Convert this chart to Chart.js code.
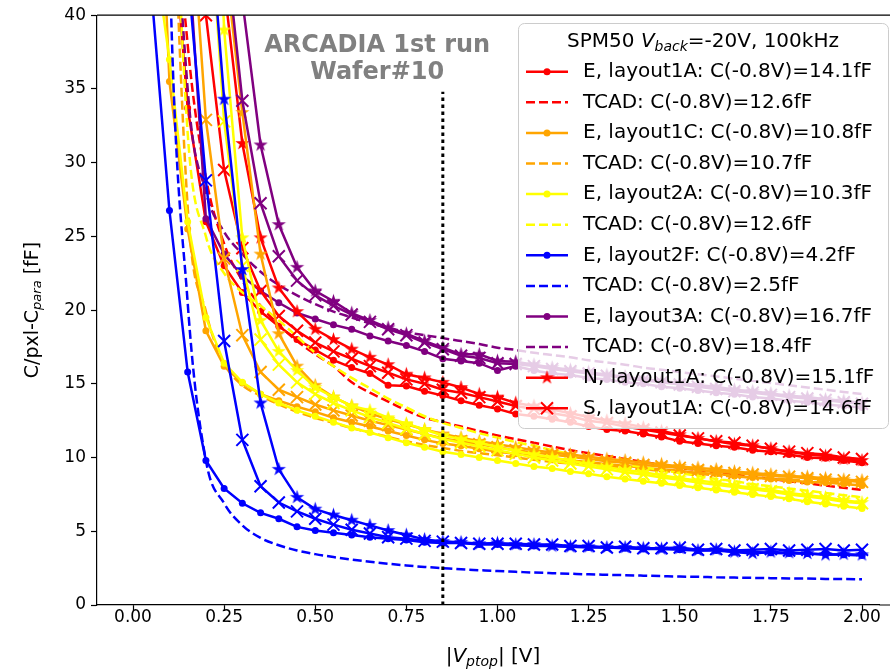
<!DOCTYPE html>
<html>
<head>
<meta charset="utf-8">
<title>ARCADIA C-V</title>
<script src="https://cdn.jsdelivr.net/npm/chart.js@4"></script>
<style>
  body { margin: 0; background: #fff; overflow: hidden; }
  #wrap { width: 890px; height: 672px; }
</style>
</head>
<body>
<div id="wrap"><canvas id="cv"></canvas></div>
<script>
// |V_ptop| grid (V)
const VOLTS = [0.05, 0.10, 0.15, 0.20, 0.25, 0.30, 0.35, 0.40, 0.45, 0.50,
  0.55, 0.60, 0.65, 0.70, 0.75, 0.80, 0.85, 0.90, 0.95, 1.00,
  1.05, 1.10, 1.15, 1.20, 1.25, 1.30, 1.35, 1.40, 1.45, 1.50,
  1.55, 1.60, 1.65, 1.70, 1.75, 1.80, 1.85, 1.90, 1.95, 2.00];

const X_TICKS = [0, 0.25, 0.5, 0.75, 1.0, 1.25, 1.5, 1.75, 2.0];
const Y_TICKS = [0, 5, 10, 15, 20, 25, 30, 35, 40];

// C/pxl - C_para (fF)
const redE = [90, 49.5, 33.7, 26, 23, 21.2, 19.9, 18.9, 18.0, 17.3,
  16.6, 16.1, 15.7, 14.9, 14.85, 14.5, 14.2, 13.85, 13.55, 13.3,
  12.95, 12.8, 12.6, 12.4, 12.1, 11.9, 11.8, 11.6, 11.4, 11.1,
  10.95, 10.8, 10.7, 10.5, 10.4, 10.2, 10.0, 9.95, 9.8, 9.65];
const redTCAD = [90, 55, 38, 29, 24.5, 22, 20.3, 19.0, 17.9, 17.0,
  16.2, 15.1, 14.4, 13.8, 13.2, 12.7, 12.4, 12.1, 11.8, 11.5,
  11.25, 11.0, 10.75, 10.5, 10.3, 10.1, 9.9, 9.7, 9.5, 9.3,
  9.15, 9.0, 8.85, 8.7, 8.55, 8.4, 8.25, 8.1, 7.95, 7.8];
const orangeE = [64, 35.5, 25.5, 18.6, 16.2, 15.05, 14.3, 13.85, 13.45, 13.1,
  12.7, 12.4, 12.1, 11.8, 11.5, 11.2, 10.95, 10.8, 10.6, 10.4,
  10.25, 10.1, 9.95, 9.8, 9.7, 9.55, 9.45, 9.3, 9.2, 9.1,
  8.95, 8.9, 8.75, 8.65, 8.55, 8.45, 8.35, 8.3, 8.2, 8.1];
const orangeTCAD = [110, 58, 27, 19.9, 16.4, 14.9, 14.2, 13.6, 13.1, 12.7,
  12.35, 12.0, 11.7, 11.4, 11.1, 10.85, 10.65, 10.45, 10.3, 10.15,
  10.0, 9.85, 9.7, 9.6, 9.5, 9.4, 9.3, 9.2, 9.1, 9.0,
  8.9, 8.8, 8.72, 8.65, 8.58, 8.5, 8.43, 8.37, 8.3, 8.25];
const yellowE = [46, 37, 26, 19.5, 16.4, 15.1, 14.3, 13.7, 13.2, 12.8,
  12.4, 12.0, 11.7, 11.35, 11.0, 10.7, 10.4, 10.2, 10.0, 9.8,
  9.6, 9.4, 9.25, 9.05, 8.9, 8.7, 8.55, 8.4, 8.25, 8.1,
  7.95, 7.8, 7.65, 7.5, 7.35, 7.2, 7.0, 6.85, 6.7, 6.55];
const yellowTCAD = [100, 60, 32, 25, 22.5, 21.2, 20.3, 19.3, 18.2, 17.1,
  16.2, 15.4, 14.7, 14.0, 13.4, 12.8, 12.35, 12.0, 11.65, 11.35,
  11.05, 10.8, 10.5, 10.25, 10.0, 9.8, 9.55, 9.35, 9.15, 8.95,
  8.75, 8.55, 8.4, 8.2, 8.05, 7.9, 7.75, 7.6, 7.45, 7.3];
const blueE = [41.8, 26.75, 15.8, 9.8, 7.9, 6.9, 6.25, 5.85, 5.3, 5.05,
  4.9, 4.75, 4.6, 4.5, 4.4, 4.25, 4.2, 4.2, 4.1, 4.1,
  4.05, 4.0, 4.0, 3.95, 3.9, 3.9, 3.85, 3.8, 3.8, 3.75,
  3.7, 3.7, 3.6, 3.6, 3.55, 3.5, 3.5, 3.45, 3.4, 3.35];
const blueTCAD = [120, 44.3, 20.5, 9.8, 6.9, 5.4, 4.55, 4.05, 3.7, 3.45,
  3.25, 3.08, 2.93, 2.8, 2.68, 2.58, 2.5, 2.42, 2.36, 2.3,
  2.25, 2.2, 2.16, 2.12, 2.08, 2.05, 2.02, 1.99, 1.96, 1.93,
  1.91, 1.88, 1.86, 1.84, 1.82, 1.8, 1.79, 1.77, 1.76, 1.74];
const purpleE = [120, 80, 45, 26.2, 23.8, 22.3, 21.3, 20.5, 19.8, 19.4,
  19.0, 18.7, 18.25, 17.9, 17.6, 17.2, 16.7, 16.55, 16.4, 15.9,
  16.2, 15.9, 15.7, 15.6, 15.4, 15.3, 15.1, 15.0, 14.8, 14.7,
  14.55, 14.4, 14.3, 14.1, 14.0, 13.85, 13.75, 13.6, 13.5, 13.4];
const purpleTCAD = [120, 60, 35, 28, 25.3, 23.8, 22.6, 21.7, 21.0, 20.4,
  19.9, 19.5, 19.1, 18.8, 18.5, 18.3, 18.1, 17.9, 17.7, 17.45,
  17.3, 17.1, 16.95, 16.8, 16.6, 16.45, 16.3, 16.1, 15.95, 15.8,
  15.65, 15.5, 15.35, 15.2, 15.05, 14.9, 14.75, 14.6, 14.45, 14.3];
const redN = [150, 110, 75, 55, 42, 31.3, 24.9, 21.5, 19.9, 18.7,
  18.0, 17.35, 16.8, 16.3, 15.65, 15.4, 15.1, 14.75, 14.3, 14.1,
  13.7, 13.5, 13.25, 13.0, 12.75, 12.5, 12.3, 12.05, 11.8, 11.55,
  11.3, 11.1, 10.9, 10.8, 10.6, 10.4, 10.2, 10.1, 9.9, 9.8];
const redS = [150, 100, 65, 40, 29.5, 24.2, 21.3, 19.6, 18.6, 17.8,
  17.2, 16.7, 16.2, 15.75, 15.3, 15.0, 14.6, 14.4, 14.1, 13.8,
  13.5, 13.3, 13.0, 12.8, 12.5, 12.35, 12.1, 11.9, 11.7, 11.5,
  11.3, 11.1, 11.0, 10.8, 10.6, 10.4, 10.3, 10.2, 10.0, 9.9];
const orangeN = [200, 130, 90, 62, 44.3, 33.4, 23.8, 18.4, 16.2, 14.9,
  14.1, 13.5, 13.0, 12.6, 12.25, 11.9, 11.6, 11.35, 11.1, 10.9,
  10.7, 10.5, 10.35, 10.2, 10.05, 9.9, 9.8, 9.65, 9.55, 9.4,
  9.3, 9.2, 9.05, 8.95, 8.85, 8.75, 8.7, 8.6, 8.5, 8.45];
const orangeS = [150, 90, 50.7, 32.9, 23.5, 18.3, 15.8, 14.6, 14.1, 13.6,
  13.2, 12.85, 12.5, 12.2, 11.9, 11.6, 11.3, 11.1, 10.9, 10.7,
  10.5, 10.35, 10.2, 10.05, 9.9, 9.75, 9.65, 9.5, 9.4, 9.3,
  9.15, 9.05, 8.95, 8.85, 8.75, 8.7, 8.6, 8.5, 8.45, 8.35];
const yellowN = [200, 140, 100, 70, 39, 24.9, 19.3, 17.2, 15.9, 14.75,
  14.1, 13.5, 13.2, 12.7, 12.3, 11.9, 11.5, 11.25, 11.0, 10.7,
  10.45, 10.2, 10.0, 9.8, 9.55, 9.35, 9.15, 9.0, 8.8, 8.6,
  8.45, 8.3, 8.1, 7.95, 7.8, 7.6, 7.45, 7.3, 7.1, 6.95];
const yellowS = [150, 100, 70, 50.8, 32.8, 23, 18, 16.3, 15.1, 14.3,
  13.7, 13.2, 12.75, 12.35, 11.95, 11.6, 11.25, 11.0, 10.75, 10.5,
  10.25, 10.0, 9.8, 9.6, 9.4, 9.2, 9.0, 8.85, 8.65, 8.5,
  8.3, 8.15, 8.0, 7.85, 7.7, 7.5, 7.35, 7.2, 7.0, 6.9];
const blueN = [200, 150, 100, 50, 34.3, 22.75, 13.7, 9.2, 7.3, 6.5,
  6.1, 5.75, 5.4, 5.05, 4.75, 4.45, 4.3, 4.25, 4.15, 4.2,
  4.1, 4.1, 4.0, 3.95, 3.95, 3.9, 3.9, 3.85, 3.8, 3.85,
  3.7, 3.75, 3.6, 3.5, 3.6, 3.55, 3.5, 3.4, 3.45, 3.4];
const blueS = [150, 90, 43, 28.8, 17.9, 11.2, 8.05, 6.95, 6.35, 5.85,
  5.45, 5.1, 4.85, 4.6, 4.5, 4.35, 4.3, 4.2, 4.15, 4.15,
  4.15, 4.1, 4.1, 4.0, 4.0, 3.9, 3.95, 3.85, 3.85, 3.9,
  3.75, 3.8, 3.7, 3.75, 3.8, 3.7, 3.75, 3.8, 3.7, 3.75];
const purpleN = [200, 150, 100, 70, 52, 41, 31.2, 25.8, 22.9, 21.3,
  20.6, 19.8, 19.3, 18.8, 18.4, 17.9, 17.45, 17.0, 17.0, 16.55,
  16.5, 16.3, 16.1, 15.95, 15.8, 15.6, 15.5, 15.3, 15.2, 15.05,
  14.9, 14.8, 14.6, 14.5, 14.35, 14.2, 14.1, 13.95, 13.85, 13.7];
const purpleS = [200, 130, 90, 60, 45.8, 34.2, 27.25, 23.65, 22.0, 21.0,
  20.3, 19.7, 19.2, 18.7, 18.3, 17.8, 17.35, 16.9, 16.75, 16.4,
  16.35, 16.2, 16.0, 15.85, 15.7, 15.55, 15.4, 15.25, 15.1, 14.95,
  14.8, 14.65, 14.5, 14.4, 14.25, 14.1, 14.0, 13.9, 13.75, 13.65];

// dotted marker line at |V_ptop| = 0.85 V
const VLINE_X = [0.85, 0.85];
const VLINE_Y = [0, 34.8];

const LEGEND_LABELS = [
  'E, layout1A: C(-0.8V)=14.1fF',
  'TCAD: C(-0.8V)=12.6fF',
  'E, layout1C: C(-0.8V)=10.8fF',
  'TCAD: C(-0.8V)=10.7fF',
  'E, layout2A: C(-0.8V)=10.3fF',
  'TCAD: C(-0.8V)=12.6fF',
  'E, layout2F: C(-0.8V)=4.2fF',
  'TCAD: C(-0.8V)=2.5fF',
  'E, layout3A: C(-0.8V)=16.7fF',
  'TCAD: C(-0.8V)=18.4fF',
  'N, layout1A: C(-0.8V)=15.1fF',
  'S, layout1A: C(-0.8V)=14.6fF'
];
const NOTE = ['ARCADIA 1st run', 'Wafer#10'];

const RED = '#ff0000';
const ORANGE = '#ffa500';
const YELLOW = '#ffff00';
const BLUE = '#0000ff';
const PURPLE = '#800080';

const FONT = '"DejaVu Sans"';

// where 0 V sits on the page and pixels per volt, to line up with the original axes
const X_ZERO_PX = 133;
const X_PX_PER_V = 364.5;

function makeStar(color) {
  const size = 17;
  const c = document.createElement('canvas');
  c.width = size;
  c.height = size;
  const g = c.getContext('2d');
  const R = 7.5;
  const r = R * 0.382;
  g.translate(size / 2, size / 2);
  g.beginPath();
  for (let k = 0; k < 10; k++) {
    const a = -Math.PI / 2 + k * Math.PI / 5;
    const rr = k % 2 ? r : R;
    g.lineTo(rr * Math.cos(a), rr * Math.sin(a));
  }
  g.closePath();
  g.fillStyle = color;
  g.fill();
  return c;
}

const stars = {};
[RED, ORANGE, YELLOW, BLUE, PURPLE].forEach((c) => { stars[c] = makeStar(c); });

// plotting order (later ones end up on top); first 12 are the legend rows
const SERIES = [
  { vals: redE, color: RED, kind: 'E' },
  { vals: redTCAD, color: RED, kind: 'T' },
  { vals: orangeE, color: ORANGE, kind: 'E' },
  { vals: orangeTCAD, color: ORANGE, kind: 'T' },
  { vals: yellowE, color: YELLOW, kind: 'E' },
  { vals: yellowTCAD, color: YELLOW, kind: 'T' },
  { vals: blueE, color: BLUE, kind: 'E' },
  { vals: blueTCAD, color: BLUE, kind: 'T' },
  { vals: purpleE, color: PURPLE, kind: 'E' },
  { vals: purpleTCAD, color: PURPLE, kind: 'T' },
  { vals: redN, color: RED, kind: 'N' },
  { vals: redS, color: RED, kind: 'S' },
  { vals: orangeN, color: ORANGE, kind: 'N' },
  { vals: orangeS, color: ORANGE, kind: 'S' },
  { vals: yellowN, color: YELLOW, kind: 'N' },
  { vals: yellowS, color: YELLOW, kind: 'S' },
  { vals: blueN, color: BLUE, kind: 'N' },
  { vals: blueS, color: BLUE, kind: 'S' },
  { vals: purpleN, color: PURPLE, kind: 'N' },
  { vals: purpleS, color: PURPLE, kind: 'S' }
];

function toPoints(xs, ys) {
  return xs.map((v, i) => ({ x: v, y: ys[i] }));
}

function buildDataset(s, idx) {
  const ds = {
    data: toPoints(VOLTS, s.vals),
    borderColor: s.color,
    backgroundColor: s.color,
    borderWidth: 2.5,
    tension: 0,
    order: 100 - idx,
    pointHoverRadius: 0
  };
  if (s.kind === 'E') {
    ds.pointStyle = 'circle';
    ds.pointRadius = 3.5;
    ds.pointBorderWidth = 0;
    ds.pointBackgroundColor = s.color;
  } else if (s.kind === 'T') {
    ds.borderDash = [9, 4];
    ds.pointRadius = 0;
    ds.cubicInterpolationMode = 'monotone';
  } else if (s.kind === 'N') {
    ds.pointStyle = stars[s.color];
    ds.pointRadius = 7;
  } else {
    ds.pointStyle = 'crossRot';
    ds.pointRadius = 8.5;
    ds.pointBorderWidth = 2;
    ds.pointBorderColor = s.color;
  }
  return ds;
}

const datasets = SERIES.map(buildDataset);
datasets.push({
  data: toPoints(VLINE_X, VLINE_Y),
  borderColor: '#000',
  borderWidth: 3,
  borderDash: [3.5, 3.5],
  borderCapStyle: 'butt',
  pointRadius: 0,
  order: 0
});

function partFont(p, size) {
  const s = p.sub ? Math.round(size * 0.7) : size;
  return (p.italic ? 'italic ' : '') + s + 'px ' + FONT;
}

function drawRich(ctx, parts, x, y, size, align) {
  let total = 0;
  const widths = parts.map((p) => {
    ctx.font = partFont(p, size);
    const w = ctx.measureText(p.t).width;
    total += w;
    return w;
  });
  let cx = align === 'center' ? x - total / 2 : x;
  ctx.textAlign = 'left';
  ctx.textBaseline = 'middle';
  parts.forEach((p, i) => {
    ctx.font = partFont(p, size);
    ctx.fillText(p.t, cx, y + (p.sub ? size * 0.25 : 0));
    cx += widths[i];
  });
}

function drawHandle(ctx, s, x0, x1, y) {
  ctx.save();
  ctx.strokeStyle = s.color;
  ctx.lineWidth = 2.5;
  if (s.kind === 'T') ctx.setLineDash([9, 4]);
  ctx.beginPath();
  ctx.moveTo(x0, y);
  ctx.lineTo(x1, y);
  ctx.stroke();
  ctx.setLineDash([]);
  const mx = (x0 + x1) / 2;
  if (s.kind === 'E') {
    ctx.fillStyle = s.color;
    ctx.beginPath();
    ctx.arc(mx, y, 3.5, 0, Math.PI * 2);
    ctx.fill();
  } else if (s.kind === 'N') {
    const img = stars[s.color];
    ctx.drawImage(img, mx - img.width / 2, y - img.height / 2);
  } else if (s.kind === 'S') {
    ctx.lineWidth = 2;
    ctx.beginPath();
    ctx.moveTo(mx - 6, y - 6); ctx.lineTo(mx + 6, y + 6);
    ctx.moveTo(mx - 6, y + 6); ctx.lineTo(mx + 6, y - 6);
    ctx.stroke();
  }
  ctx.restore();
}

const decor = {
  id: 'decor',
  afterDraw(chart) {
    const { ctx, chartArea: a, scales } = chart;
    const x = scales.x;
    const y = scales.y;
    ctx.save();

    // top spine, and the axes running on to the cropped right edge
    ctx.strokeStyle = '#000';
    ctx.lineWidth = 1.2;
    ctx.beginPath();
    ctx.moveTo(a.left, a.top);
    ctx.lineTo(chart.width, a.top);
    ctx.moveTo(a.right, a.bottom);
    ctx.lineTo(chart.width, a.bottom);
    ctx.stroke();

    // run / wafer note
    ctx.fillStyle = '#808080';
    ctx.font = 'bold 24px ' + FONT;
    ctx.textAlign = 'center';
    ctx.textBaseline = 'middle';
    ctx.fillText(NOTE[0], x.getPixelForValue(0.67), y.getPixelForValue(37.95));
    ctx.fillText(NOTE[1], x.getPixelForValue(0.67), y.getPixelForValue(36.1));

    // legend box
    const bx = 518, by = 23, bw = 370, bh = 405;
    ctx.fillStyle = 'rgba(255,255,255,0.8)';
    ctx.strokeStyle = '#cccccc';
    ctx.lineWidth = 1;
    ctx.beginPath();
    ctx.roundRect(bx + 0.5, by + 0.5, bw, bh, 6);
    ctx.fill();
    ctx.stroke();

    ctx.fillStyle = '#000';
    drawRich(ctx, [
      { t: 'SPM50 ' },
      { t: 'V', italic: true },
      { t: 'back', italic: true, sub: true },
      { t: '=-20V, 100kHz' }
    ], 703, 42, 20, 'center');

    LEGEND_LABELS.forEach((label, i) => {
      const ry = 71.7 + i * 30.6;
      drawHandle(ctx, SERIES[i], 526, 568, ry);
      ctx.fillStyle = '#000';
      ctx.font = '20px ' + FONT;
      ctx.textAlign = 'left';
      ctx.textBaseline = 'middle';
      ctx.fillText(label, 583, ry);
    });

    // axis titles
    ctx.fillStyle = '#000';
    drawRich(ctx, [
      { t: '|' },
      { t: 'V', italic: true },
      { t: 'ptop', italic: true, sub: true },
      { t: '| [V]' }
    ], 493, 657, 20, 'center');

    ctx.translate(33, (a.top + a.bottom) / 2);
    ctx.rotate(-Math.PI / 2);
    drawRich(ctx, [
      { t: 'C/pxl-C' },
      { t: 'para', italic: true, sub: true },
      { t: ' [fF]' }
    ], 0, 0, 19, 'center');

    ctx.restore();
  }
};

Chart.defaults.font.family = FONT;
Chart.defaults.color = '#000';

const chart = new Chart(document.getElementById('cv'), {
  type: 'line',
  data: { datasets },
  options: {
    responsive: true,
    maintainAspectRatio: false,
    devicePixelRatio: 1,
    animation: false,
    events: [],
    layout: { padding: { top: 13, right: 0, bottom: 0, left: 0 } },
    plugins: {
      legend: { display: false },
      tooltip: { enabled: false }
    },
    scales: {
      x: {
        type: 'linear',
        min: -0.0988,
        max: 2.0768,
        afterBuildTicks: (s) => { s.ticks = X_TICKS.map((v) => ({ value: v })); },
        afterFit: (s) => { s.height = 67; },
        ticks: {
          callback: (v) => Number(v).toFixed(2),
          font: { size: 17 },
          color: '#000',
          padding: -4,
          maxRotation: 0,
          autoSkip: false
        },
        grid: { drawOnChartArea: false, tickLength: 6, tickColor: '#000', tickWidth: 1.2 },
        border: { color: '#000', width: 1.2 }
      },
      y: {
        type: 'linear',
        min: 0,
        max: 40,
        afterBuildTicks: (s) => { s.ticks = Y_TICKS.map((v) => ({ value: v })); },
        afterFit: (s) => { s.width = 97; },
        ticks: {
          font: { size: 17 },
          color: '#000',
          padding: 5,
          autoSkip: false
        },
        grid: { drawOnChartArea: false, tickLength: 6, tickColor: '#000', tickWidth: 1.2 },
        border: { color: '#000', width: 1.2 }
      }
    }
  },
  plugins: [decor]
});

// fit the x range to the plot box Chart.js ended up with
const ca = chart.chartArea;
chart.options.scales.x.min = (ca.left - X_ZERO_PX) / X_PX_PER_V;
chart.options.scales.x.max = (ca.right - X_ZERO_PX) / X_PX_PER_V;
chart.update();
</script>
</body>
</html>
